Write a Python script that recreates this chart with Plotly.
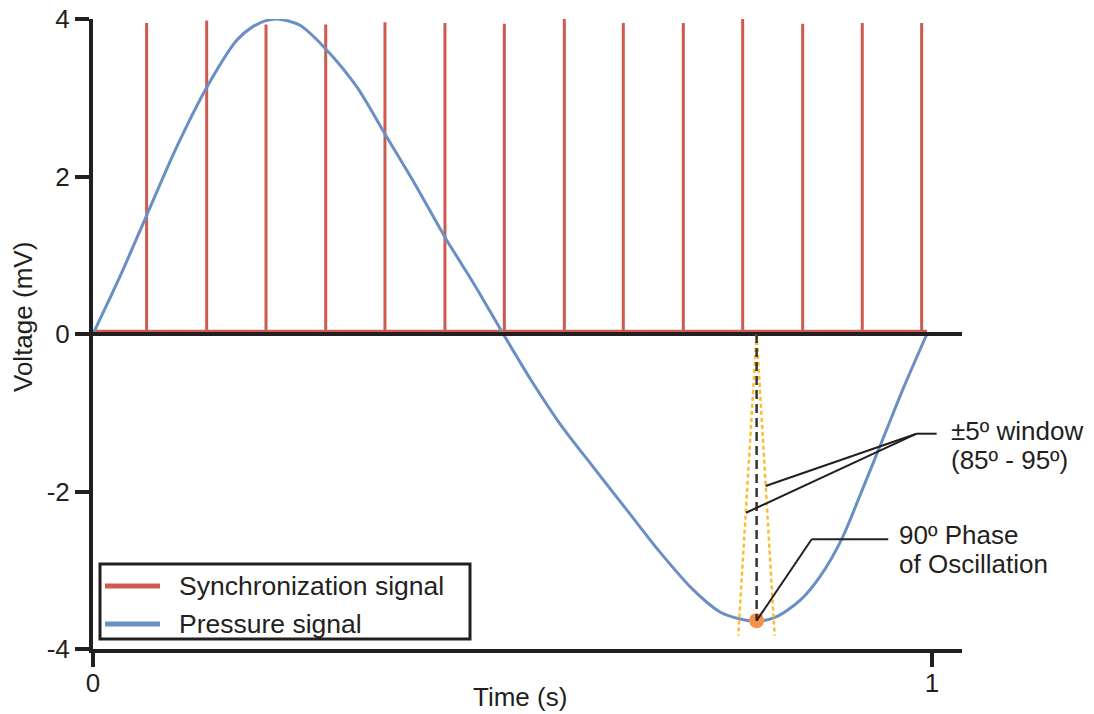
import plotly.graph_objects as go

# ---------------- data ----------------
pressure_t = [0, 0.033, 0.064, 0.0998, 0.1355, 0.1713, 0.19, 0.2062, 0.22, 0.2467, 0.2774,
              0.3143, 0.348, 0.384, 0.4195, 0.455, 0.489, 0.523, 0.5566,
              0.5963, 0.636, 0.6758, 0.7155, 0.7473, 0.7712, 0.791, 0.815, 0.843,
              0.8665, 0.8923, 0.918, 0.944, 0.9658, 0.994]
pressure_v = [0, 0.75, 1.507, 2.375, 3.13, 3.73, 3.90, 3.98, 4.00, 3.92, 3.62,
              3.14, 2.54, 1.90, 1.23, 0.62, 0, -0.60, -1.14,
              -1.69, -2.23, -2.77, -3.25, -3.53, -3.62, -3.65, -3.59, -3.38,
              -3.08, -2.607, -1.95, -1.266, -0.69, 0]

sync_times = [0.0639, 0.1355, 0.2062, 0.2774, 0.348, 0.4195, 0.4903, 0.5618,
              0.6321, 0.7036, 0.7744, 0.8459, 0.9169, 0.9877]
sync_heights = [3.95, 3.98, 3.93, 3.93, 3.96, 3.95, 3.94, 4.01,
                3.95, 3.95, 4.00, 3.94, 3.95, 3.95]
sync_baseline = 0.035
sync_end = 0.994

phase90_t = 0.791
phase90_v = -3.64
window_t = [0.7691, 0.8125]   # 85 deg / 95 deg edges at the bottom of the window
window_v = -3.83

x_tickvals = [0, 1]
x_ticktext = ["0", "1"]
y_tickvals = [-4, -2, 0, 2, 4]
y_ticktext = ["-4", "-2", "0", "2", "4"]

legend_names = ["Synchronization signal", "Pressure signal"]

# ---------------- styling ----------------
INK = "#231f20"
RED = "#cf5a4f"
BLUE = "#6a8fc3"
ORANGE = "#f5914a"
YELLOW = "#fbbd2e"
FONT = "Liberation Sans, Arial, Helvetica, sans-serif"
FS = 26

# plot-area geometry in page pixels
W, H = 1094, 714
L, R, T, B = 93, 962, 19, 649
PW, PH = R - L, B - T


def px(xp):
    return (xp - L) / PW


def py(yp):
    return (B - yp) / PH


# build sync trace (baseline with vertical spikes)
sx, sy = [0], [sync_baseline]
for t, h in zip(sync_times, sync_heights):
    sx += [t, t, t]
    sy += [sync_baseline, h, sync_baseline]
sx.append(sync_end)
sy.append(sync_baseline)

fig = go.Figure()
fig.add_trace(go.Scatter(x=sx, y=sy, mode="lines", name=legend_names[0], showlegend=False,
                         line=dict(color=RED, width=3)))
fig.add_trace(go.Scatter(x=pressure_t, y=pressure_v, mode="lines", name=legend_names[1],
                         showlegend=False,
                         line=dict(color=BLUE, width=3, shape="spline", smoothing=0.8)))

# zero line
fig.add_shape(type="line", xref="x", yref="y", x0=0, x1=1.0358, y0=0, y1=0,
              line=dict(color=INK, width=4), layer="above")

# yellow window edges
for wt in window_t:
    fig.add_shape(type="line", x0=phase90_t, y0=0, x1=wt, y1=window_v,
                  line=dict(color=YELLOW, width=2.5, dash="4px,3px"))
# black dashed 90 deg line
fig.add_shape(type="line", x0=phase90_t, y0=0, x1=phase90_t, y1=phase90_v,
              line=dict(color="#333333", width=2.5, dash="9px,5px"))

# callout lines for the window
fig.add_shape(type="line", x0=0.9817, y0=-1.266, x1=1.0055, y1=-1.266,
              line=dict(color=INK, width=2))
fig.add_shape(type="line", x0=0.9817, y0=-1.266, x1=0.8017, y1=-1.93,
              line=dict(color=INK, width=2))
fig.add_shape(type="line", x0=0.9817, y0=-1.266, x1=0.7783, y1=-2.27,
              line=dict(color=INK, width=2))
# callout for 90 deg phase
fig.add_shape(type="line", x0=0.8566, y0=-2.607, x1=0.9479, y1=-2.607,
              line=dict(color=INK, width=2))
fig.add_shape(type="line", x0=0.8566, y0=-2.607, x1=phase90_t, y1=phase90_v,
              line=dict(color=INK, width=2))

# 90 deg point
fig.add_trace(go.Scatter(x=[phase90_t], y=[phase90_v], mode="markers", showlegend=False,
                         marker=dict(color=ORANGE, size=15, line=dict(width=0))))


def txt(x, y, s, size=FS, **kw):
    d = dict(xref="paper", yref="paper", x=x, y=y, text=s, showarrow=False,
             font=dict(family=FONT, size=size, color=INK), xanchor="left", yanchor="middle")
    d.update(kw)
    fig.add_annotation(**d)


# annotation texts
txt(px(949), py(431), "±5º window")
txt(px(949), py(460), "(85º - 95º)")
txt(px(897), py(535), "90º Phase")
txt(px(897), py(564), "of Oscillation")

# axis titles
txt(px(520), py(697), "Time (s)", xanchor="center")
txt(px(23), py(317), "Voltage (mV)", xanchor="center", textangle=-90)

# legend (box, line samples, labels)
fig.add_shape(type="rect", xref="paper", yref="paper", x0=px(100), x1=px(470),
              y0=py(639), y1=py(564), line=dict(color=INK, width=3), fillcolor="white",
              layer="above")
for name, col, yrow in zip(legend_names, [RED, BLUE], [586, 624]):
    fig.add_shape(type="line", xref="paper", yref="paper", x0=px(105), x1=px(160),
                  y0=py(yrow), y1=py(yrow), line=dict(color=col, width=5), layer="above")
    txt(px(177), py(yrow), name, size=26.5)

fig.update_layout(
    width=W, height=H,
    margin=dict(l=L, r=W - R, t=T, b=H - B, pad=0, autoexpand=False),
    paper_bgcolor="white", plot_bgcolor="white",
    font=dict(family=FONT, size=FS, color=INK),
    showlegend=False,
    xaxis=dict(range=[0, 1.0358], showgrid=False, zeroline=False, showline=True,
               automargin=False, ticklabelstandoff=-6, ticklabeloverflow="allow",
               linecolor=INK, linewidth=4, ticks="outside", ticklen=14, tickwidth=4,
               tickcolor=INK, tickvals=x_tickvals, ticktext=x_ticktext,
               tickfont=dict(family=FONT, size=FS, color=INK)),
    yaxis=dict(range=[-4, 4], showgrid=False, zeroline=False, showline=True,
               automargin=False, ticklabeloverflow="allow",
               linecolor=INK, linewidth=4, ticks="outside", ticklen=14, tickwidth=4,
               tickcolor=INK, tickvals=y_tickvals, ticktext=y_ticktext,
               tickfont=dict(family=FONT, size=FS, color=INK)),
)

fig.write_html("out.html",
               config={"displayModeBar": False},
               post_script="document.body.style.margin='0px';"
                           "document.body.style.overflow='hidden';")
